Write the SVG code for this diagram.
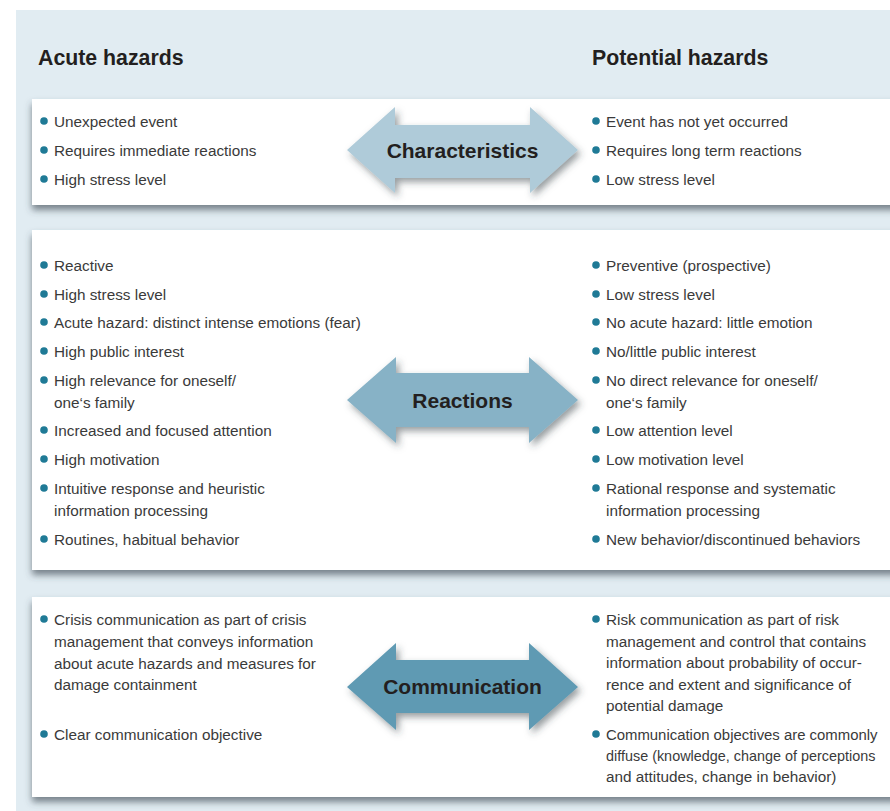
<svg xmlns="http://www.w3.org/2000/svg" width="890" height="811" viewBox="0 0 890 811">
<defs>
<filter id="pshadow" x="-5%" y="-20%" width="110%" height="150%">
<feDropShadow dx="0" dy="5" stdDeviation="3.5" flood-color="#3c4a52" flood-opacity="0.65"/>
</filter>
<filter id="ashadow" x="-20%" y="-30%" width="140%" height="160%">
<feDropShadow dx="3" dy="4" stdDeviation="3.5" flood-color="#2e3a40" flood-opacity="0.5"/>
</filter>
<style>
.bg{fill:#e1ecf2}
.panel{fill:#ffffff;filter:url(#pshadow)}
.head{font-family:"Liberation Sans",Arial,sans-serif;font-weight:bold;font-size:21.3px;fill:#231f20}
.t{font-family:"Liberation Sans",Arial,sans-serif;font-size:15.3px;fill:#3a3a3a}
.dot{fill:#1f7a96}
.lbl{font-family:"Liberation Sans",Arial,sans-serif;font-weight:bold;font-size:21px;fill:#231f20;text-anchor:middle}
.arrow{filter:url(#ashadow)}
</style>
</defs>
<rect x="0" y="0" width="890" height="811" fill="#ffffff"/>
<rect class="bg" x="16" y="10" width="874" height="801"/>

<g id="headings">
<text class="head" x="38" y="65">Acute hazards</text>
<text class="head" x="592" y="65">Potential hazards</text>
</g>

<g id="panel-characteristics">
<rect class="panel" x="32" y="99" width="870" height="106"/>
<circle class="dot" cx="44" cy="121" r="3.8"/><text class="t" x="54" y="127">Unexpected event</text>
<circle class="dot" cx="44" cy="150" r="3.8"/><text class="t" x="54" y="156">Requires immediate reactions</text>
<circle class="dot" cx="44" cy="179" r="3.8"/><text class="t" x="54" y="185">High stress level</text>
<circle class="dot" cx="596" cy="121" r="3.8"/><text class="t" x="606" y="127">Event has not yet occurred</text>
<circle class="dot" cx="596" cy="150" r="3.8"/><text class="t" x="606" y="156">Requires long term reactions</text>
<circle class="dot" cx="596" cy="179" r="3.8"/><text class="t" x="606" y="185">Low stress level</text>
</g>

<g id="panel-reactions">
<rect class="panel" x="32" y="230" width="870" height="340"/>
<circle class="dot" cx="44" cy="265" r="3.8"/><text class="t" x="54" y="271">Reactive</text>
<circle class="dot" cx="44" cy="294" r="3.8"/><text class="t" x="54" y="300">High stress level</text>
<circle class="dot" cx="44" cy="322" r="3.8"/><text class="t" x="54" y="328">Acute hazard: distinct intense emotions (fear)</text>
<circle class="dot" cx="44" cy="351" r="3.8"/><text class="t" x="54" y="357">High public interest</text>
<circle class="dot" cx="44" cy="380" r="3.8"/><text class="t" x="54" y="386">High relevance for oneself/</text>
<text class="t" x="54" y="408">one‘s family</text>
<circle class="dot" cx="44" cy="430" r="3.8"/><text class="t" x="54" y="436">Increased and focused attention</text>
<circle class="dot" cx="44" cy="459" r="3.8"/><text class="t" x="54" y="465">High motivation</text>
<circle class="dot" cx="44" cy="488" r="3.8"/><text class="t" x="54" y="494">Intuitive response and heuristic</text>
<text class="t" x="54" y="516">information processing</text>
<circle class="dot" cx="44" cy="539" r="3.8"/><text class="t" x="54" y="545">Routines, habitual behavior</text>

<circle class="dot" cx="596" cy="265" r="3.8"/><text class="t" x="606" y="271">Preventive (prospective)</text>
<circle class="dot" cx="596" cy="294" r="3.8"/><text class="t" x="606" y="300">Low stress level</text>
<circle class="dot" cx="596" cy="322" r="3.8"/><text class="t" x="606" y="328">No acute hazard: little emotion</text>
<circle class="dot" cx="596" cy="351" r="3.8"/><text class="t" x="606" y="357">No/little public interest</text>
<circle class="dot" cx="596" cy="380" r="3.8"/><text class="t" x="606" y="386">No direct relevance for oneself/</text>
<text class="t" x="606" y="408">one‘s family</text>
<circle class="dot" cx="596" cy="430" r="3.8"/><text class="t" x="606" y="436">Low attention level</text>
<circle class="dot" cx="596" cy="459" r="3.8"/><text class="t" x="606" y="465">Low motivation level</text>
<circle class="dot" cx="596" cy="488" r="3.8"/><text class="t" x="606" y="494">Rational response and systematic</text>
<text class="t" x="606" y="516">information processing</text>
<circle class="dot" cx="596" cy="539" r="3.8"/><text class="t" x="606" y="545">New behavior/discontinued behaviors</text>
</g>

<g id="panel-communication">
<rect class="panel" x="32" y="597" width="870" height="200"/>
<circle class="dot" cx="44" cy="619" r="3.8"/><text class="t" x="54" y="625">Crisis communication as part of crisis</text>
<text class="t" x="54" y="647">management that conveys information</text>
<text class="t" x="54" y="669">about acute hazards and measures for</text>
<text class="t" x="54" y="690">damage containment</text>
<circle class="dot" cx="44" cy="734" r="3.8"/><text class="t" x="54" y="740">Clear communication objective</text>

<circle class="dot" cx="596" cy="619" r="3.8"/><text class="t" x="606" y="625">Risk communication as part of risk</text>
<text class="t" x="606" y="647">management and control that contains</text>
<text class="t" x="606" y="668">information about probability of occur-</text>
<text class="t" x="606" y="690">rence and extent and significance of</text>
<text class="t" x="606" y="711">potential damage</text>
<circle class="dot" cx="596" cy="734" r="3.8"/><text class="t" x="606" y="740" style="font-size:14.9px">Communication objectives are commonly</text>
<text class="t" x="606" y="761" style="font-size:14.4px">diffuse (knowledge, change of perceptions</text>
<text class="t" x="606" y="782">and attitudes, change in behavior)</text>
</g>

<g id="arrow-characteristics">
<polygon class="arrow" fill="#afcbd9" points="347,150 395,107 395,125 530,125 530,107 578,150 530,193 530,178 395,178 395,193"/>
<text class="lbl" x="462.5" y="158">Characteristics</text>
</g>
<g id="arrow-reactions">
<polygon class="arrow" fill="#87b2c6" points="347,400 396,357 396,373 529,373 529,357 578,400 529,443 529,427 396,427 396,443"/>
<text class="lbl" x="462.5" y="408">Reactions</text>
</g>
<g id="arrow-communication">
<polygon class="arrow" fill="#5f9ab3" points="347,687 396,643 396,660 529,660 529,643 578,687 529,730 529,713 396,713 396,730"/>
<text class="lbl" x="462.5" y="694">Communication</text>
</g>
</svg>
